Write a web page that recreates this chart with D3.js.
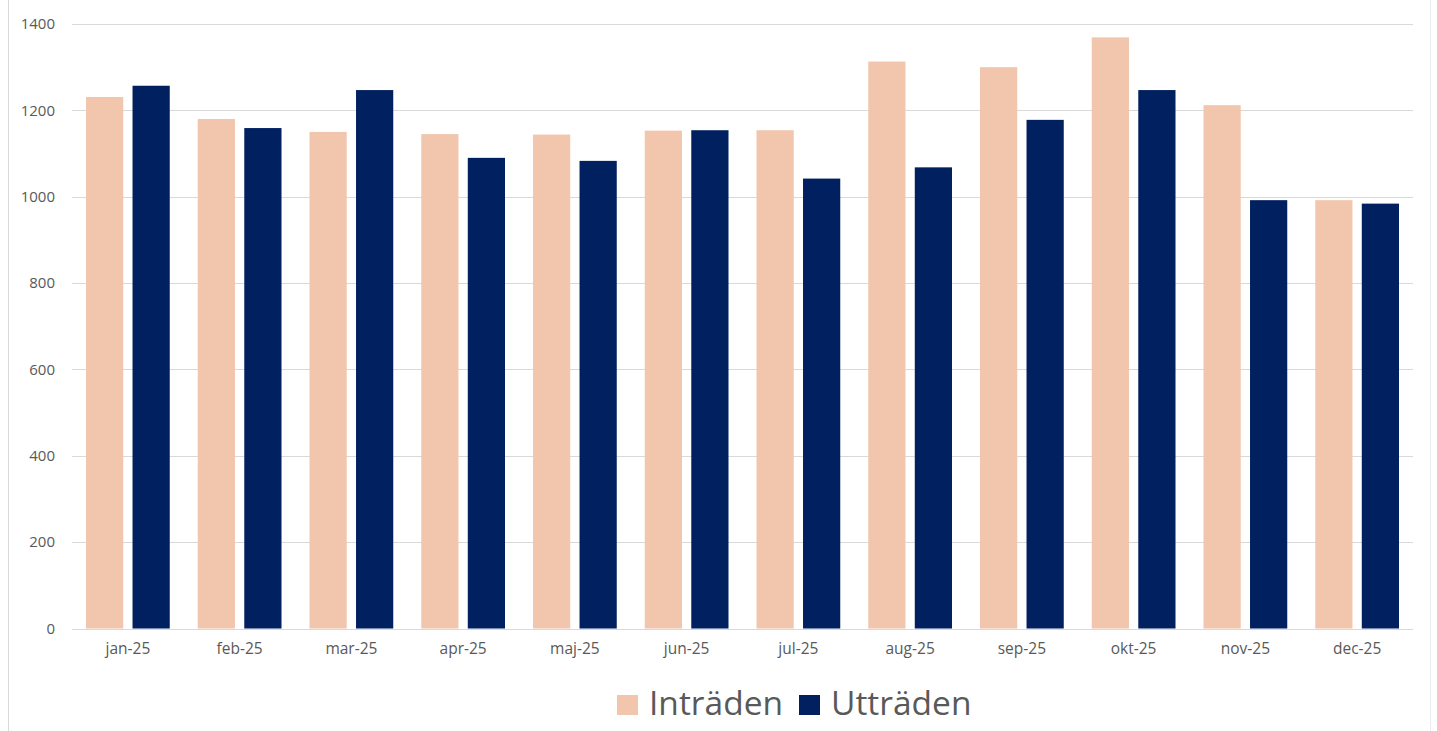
<!DOCTYPE html>
<html>
<head>
<meta charset="utf-8">
<script src="https://cdn.jsdelivr.net/npm/d3@7"></script>
<style>
  body { margin: 0; background: #fff; }
  text { font-family: "Open Sans", sans-serif; fill: #595959; }
</style>
</head>
<body>
<div id="chart-area"></div>
<script>
// data
var months = ["jan-25", "feb-25", "mar-25", "apr-25", "maj-25", "jun-25",
              "jul-25", "aug-25", "sep-25", "okt-25", "nov-25", "dec-25"];
var intraden = [1231, 1180, 1150, 1145, 1144, 1153, 1154, 1313, 1300, 1369, 1212, 992];
var uttraden = [1257, 1159, 1247, 1090, 1083, 1154, 1042, 1068, 1178, 1247, 992, 984];
var seriesNames = ["Inträden", "Utträden"];
var colors = ["#F2C6AD", "#002060"];
var yTicks = [0, 200, 400, 600, 800, 1000, 1200, 1400];

var width = 1437, height = 731;
var margin = {top: 24, right: 24, bottom: 102.5, left: 72};

var svg = d3.select("#chart-area").append("svg")
    .attr("width", width)
    .attr("height", height);

// outer frame lines (left and right)
svg.append("line").attr("x1", 8.5).attr("x2", 8.5).attr("y1", 0).attr("y2", height)
    .attr("stroke", "#d9d9d9");
svg.append("line").attr("x1", 1430.5).attr("x2", 1430.5).attr("y1", 0).attr("y2", height)
    .attr("stroke", "#ececec");

var x0 = d3.scaleBand().domain(months)
    .range([margin.left, width - margin.right]);
var x1 = d3.scaleBand().domain(seriesNames)
    .range([14, x0.bandwidth() - 14])
    .paddingInner(0.2);
var y = d3.scaleLinear().domain([0, 1400])
    .range([height - margin.bottom, margin.top]);

// gridlines
svg.append("g").selectAll("line").data(yTicks).enter()
    .append("line")
    .attr("x1", margin.left)
    .attr("x2", width - margin.right)
    .attr("y1", function (d) { return Math.round(y(d)) + 0.5; })
    .attr("y2", function (d) { return Math.round(y(d)) + 0.5; })
    .attr("stroke", "#d9d9d9")
    .attr("stroke-width", 1.2);

// y axis labels
var yAxis = d3.axisLeft(y).tickValues(yTicks).tickFormat(d3.format("d"))
    .tickSize(0).tickPadding(0);
svg.append("g")
    .attr("transform", "translate(55,0)")
    .call(yAxis)
    .call(function (g) { g.select(".domain").remove(); })
    .selectAll("text")
    .style("font-size", "15px")
    .attr("fill", "#595959");

// bars
var rows = months.map(function (m, i) {
    return {month: m, values: [intraden[i], uttraden[i]]};
});

var groups = svg.append("g").selectAll("g").data(rows).enter()
    .append("g")
    .attr("transform", function (d) { return "translate(" + x0(d.month) + ",0)"; });

groups.selectAll("rect")
    .data(function (d) {
        return d.values.map(function (v, k) { return {key: seriesNames[k], value: v, k: k}; });
    })
    .enter()
    .append("rect")
    .attr("x", function (d) { return x1(d.key); })
    .attr("width", x1.bandwidth())
    .attr("y", function (d) { return y(d.value); })
    .attr("height", function (d) { return y(0) - y(d.value); })
    .attr("fill", function (d) { return colors[d.k]; });

// x axis labels
var xAxis = d3.axisBottom(x0).tickSize(0).tickPadding(14);
svg.append("g")
    .attr("transform", "translate(0," + y(0) + ")")
    .call(xAxis)
    .call(function (g) { g.select(".domain").remove(); })
    .selectAll("text")
    .style("font-size", "15.5px")
    .attr("fill", "#595959");

// legend
var legend = svg.append("g").attr("transform", "translate(617,0)");
var legendX = [0, 182];
seriesNames.forEach(function (name, k) {
    legend.append("rect")
        .attr("x", legendX[k])
        .attr("y", 695)
        .attr("width", 21)
        .attr("height", 20)
        .attr("fill", colors[k]);
    legend.append("text")
        .attr("x", legendX[k] + 32)
        .attr("y", 715)
        .style("font-size", "33.5px")
        .text(name);
});
</script>
</body>
</html>
